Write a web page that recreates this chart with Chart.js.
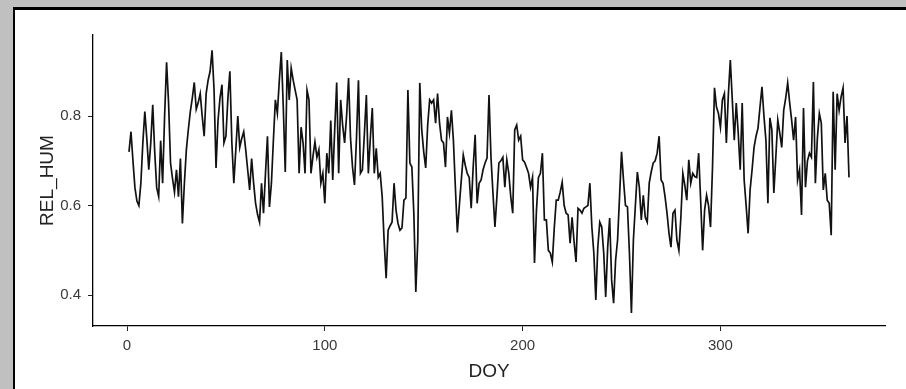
<!DOCTYPE html>
<html>
<head>
<meta charset="utf-8">
<script src="https://cdn.jsdelivr.net/npm/chart.js@4.4.1/dist/chart.umd.min.js"></script>
<style>
  html, body { margin: 0; padding: 0; background: #c0c0c0; overflow: hidden; }
  #panel {
    position: absolute; left: 13px; top: 7px; width: 893px; height: 400px;
    background: #fff; border-left: 2px solid #000; border-top: 3px solid #000; box-sizing: border-box;
  }
  #humChart { position: absolute; left: 0; top: 0; }
</style>
</head>
<body>
<div id="panel"></div>
<canvas id="humChart" width="906" height="389"></canvas>
<script>
// Relative humidity per day of year
const relHum = [
  0.72, 0.765, 0.70, 0.64, 0.61, 0.60, 0.65, 0.74, 0.81, 0.75,
  0.68, 0.74, 0.825, 0.72, 0.64, 0.62, 0.745, 0.65, 0.80, 0.92,
  0.83, 0.695, 0.66, 0.63, 0.68, 0.62, 0.705, 0.56, 0.65, 0.725,
  0.77, 0.81, 0.84, 0.875, 0.815, 0.83, 0.85, 0.80, 0.755, 0.85,
  0.88, 0.90, 0.947, 0.858, 0.684, 0.79, 0.84, 0.87, 0.74, 0.755,
  0.84, 0.90, 0.74, 0.65, 0.725, 0.80, 0.73, 0.75, 0.765, 0.725,
  0.68, 0.635, 0.705, 0.65, 0.605, 0.58, 0.563, 0.65, 0.583, 0.672,
  0.755, 0.597, 0.65, 0.746, 0.836, 0.806, 0.88, 0.943, 0.82, 0.675,
  0.925, 0.836, 0.907, 0.88, 0.858, 0.836, 0.672, 0.775, 0.74, 0.672,
  0.858, 0.836, 0.672, 0.71, 0.742, 0.708, 0.725, 0.65, 0.672, 0.605,
  0.717, 0.672, 0.79, 0.657, 0.77, 0.875, 0.672, 0.836, 0.78, 0.74,
  0.80, 0.885, 0.75, 0.686, 0.646, 0.75, 0.88, 0.672, 0.68, 0.76,
  0.847, 0.672, 0.75, 0.818, 0.672, 0.728, 0.663, 0.672, 0.62, 0.52,
  0.438, 0.545, 0.555, 0.563, 0.65, 0.59, 0.56, 0.545, 0.55, 0.612,
  0.617, 0.858, 0.695, 0.686, 0.583, 0.407, 0.523, 0.874, 0.769, 0.72,
  0.684, 0.78, 0.836, 0.829, 0.836, 0.784, 0.85, 0.784, 0.746, 0.74,
  0.686, 0.798, 0.762, 0.813, 0.746, 0.641, 0.54, 0.60, 0.657, 0.713,
  0.69, 0.672, 0.663, 0.594, 0.686, 0.758, 0.605, 0.65, 0.657, 0.68,
  0.695, 0.706, 0.847, 0.708, 0.628, 0.552, 0.62, 0.695, 0.70, 0.708,
  0.641, 0.702, 0.672, 0.62, 0.583, 0.769, 0.78, 0.746, 0.755, 0.702,
  0.697, 0.685, 0.672, 0.641, 0.663, 0.472, 0.59, 0.663, 0.672, 0.717,
  0.568, 0.568, 0.50, 0.494, 0.474, 0.55, 0.612, 0.612, 0.63, 0.652,
  0.60, 0.583, 0.579, 0.516, 0.574, 0.52, 0.474, 0.594, 0.59, 0.583,
  0.594, 0.597, 0.60, 0.65, 0.552, 0.494, 0.389, 0.507, 0.563, 0.552,
  0.494, 0.396, 0.507, 0.572, 0.434, 0.382, 0.478, 0.523, 0.62, 0.72,
  0.657, 0.60, 0.597, 0.494, 0.36, 0.523, 0.60, 0.675, 0.641, 0.568,
  0.623, 0.574, 0.563, 0.65, 0.675, 0.695, 0.70, 0.717, 0.755, 0.657,
  0.65, 0.62, 0.583, 0.538, 0.507, 0.583, 0.59, 0.523, 0.50, 0.574,
  0.672, 0.645, 0.612, 0.702, 0.65, 0.672, 0.665, 0.663, 0.717, 0.612,
  0.50, 0.59, 0.623, 0.60, 0.552, 0.686, 0.863, 0.82, 0.806, 0.775,
  0.836, 0.85, 0.74, 0.847, 0.925, 0.836, 0.746, 0.829, 0.762, 0.68,
  0.829, 0.657, 0.60, 0.538, 0.635, 0.68, 0.73, 0.755, 0.773, 0.82,
  0.865, 0.80, 0.746, 0.605, 0.796, 0.769, 0.628, 0.708, 0.791, 0.762,
  0.73, 0.813, 0.84, 0.874, 0.83, 0.791, 0.746, 0.798, 0.657, 0.68,
  0.579, 0.818, 0.641, 0.70, 0.717, 0.708, 0.876, 0.65, 0.75, 0.806,
  0.784, 0.635, 0.672, 0.612, 0.605, 0.534, 0.854, 0.68, 0.85, 0.813,
  0.843, 0.863, 0.74, 0.80, 0.663
];
// day of year for each value
const days = relHum.map((v, i) => i + 1);

// axis ticks
const doyTicks = [0, 100, 200, 300];
const humTicks = [0.4, 0.6, 0.8];

const points = days.map((d, i) => ({ x: d, y: relHum[i] }));

const tickFont = { family: "Liberation Sans", size: 15 };
const titleFont = { family: "Liberation Sans", size: 19 };

new Chart(document.getElementById("humChart"), {
  type: "line",
  data: {
    datasets: [
      {
        label: "REL_HUM",
        data: points,
        borderColor: "#111",
        borderWidth: 1.7,
        pointRadius: 0,
        tension: 0,
        fill: false,
      },
    ],
  },
  options: {
    responsive: false,
    animation: false,
    layout: { padding: { left: 0, top: 35, right: 21, bottom: 0 } },
    plugins: { legend: { display: false }, tooltip: { enabled: false } },
    scales: {
      x: {
        type: "linear",
        min: -17.2,
        max: 383.2,
        afterBuildTicks: (s) => { s.ticks = doyTicks.map((v) => ({ value: v })); },
        afterFit: (s) => { s.height = 63; },
        grid: { drawOnChartArea: false, drawTicks: true, tickLength: 5, color: "#222", lineWidth: 1 },
        border: { display: true, color: "#000", width: 1.3 },
        ticks: { color: "#3a3a3a", font: tickFont, padding: 6, maxRotation: 0 },
        title: { display: true, text: "DOY", color: "#222", font: titleFont, padding: { top: 0, bottom: 6 } },
      },
      y: {
        min: 0.331,
        max: 0.981,
        afterBuildTicks: (s) => { s.ticks = humTicks.map((v) => ({ value: v })); },
        afterFit: (s) => { s.width = 93; },
        grid: { drawOnChartArea: false, drawTicks: true, tickLength: 5, color: "#222", lineWidth: 1 },
        border: { display: true, color: "#000", width: 1.3 },
        ticks: { color: "#3a3a3a", font: tickFont, padding: 7, callback: (v) => v.toFixed(1) },
        title: { display: true, text: "REL_HUM", color: "#222", font: titleFont, padding: { top: 36, bottom: 0 } },
      },
    },
  },
});
</script>
</body>
</html>
